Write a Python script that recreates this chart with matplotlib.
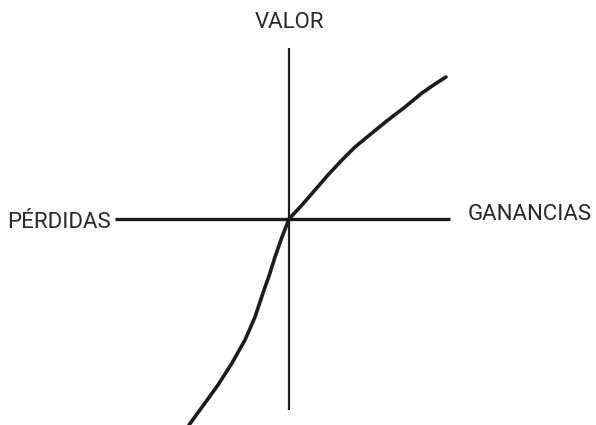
import matplotlib.pyplot as plt

# value curve (x = outcome, y = value)
loss_x = [-100, -84, -71, -57, -44, -34, -26, -19, -14, -7, 0]
loss_y = [-206, -184, -166, -144, -121, -98, -74, -54, -38, -18, 0]
gain_x = [0, 13, 26, 39, 53, 66, 83, 99, 116, 133, 146, 157]
gain_y = [0, 14, 29, 44, 59, 72, 86, 99, 112, 126, 135, 142]

labels = {"y": "VALOR", "neg": "PÉRDIDAS", "pos": "GANANCIAS"}

plt.rcParams['font.family'] = ['Roboto', 'DejaVu Sans']

fig = plt.figure(figsize=(5.96, 4.25), dpi=100)
ax = fig.add_axes([0, 0, 1, 1])
ax.set_xlim(-289, 307)
ax.set_ylim(-206, 219)
ax.axis("off")

ink = "#1c1c1c"
ax.plot([-174, 161], [0, 0], color=ink, lw=2.4, solid_capstyle="butt")
ax.plot([0, 0], [-191, 171], color=ink, lw=1.6, solid_capstyle="butt")
ax.plot(loss_x + gain_x[1:], loss_y + gain_y[1:], color=ink, lw=2.6,
        solid_capstyle="round", solid_joinstyle="round")

txt = dict(color="#2a2a2a", fontsize=16)
ax.text(0, 196, labels["y"], ha="center", va="center", **txt)
ax.text(-178, -3, labels["neg"], ha="right", va="center", **txt)
ax.text(179, 5, labels["pos"], ha="left", va="center", **txt)

fig.savefig("out.png", dpi=100)
